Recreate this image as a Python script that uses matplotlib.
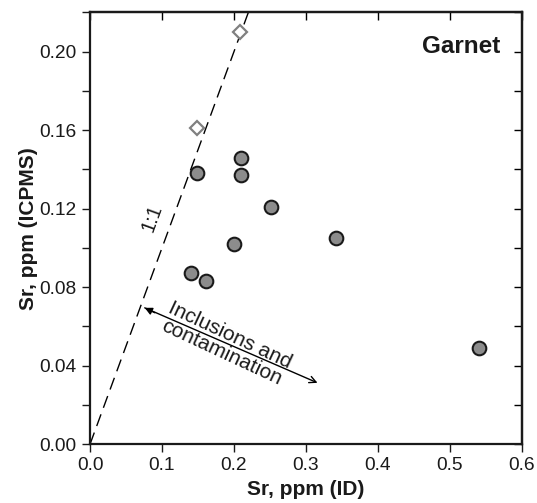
import numpy as np
import matplotlib.pyplot as plt
from matplotlib.ticker import MultipleLocator

plt.rcParams['font.family'] = ['Liberation Sans', 'DejaVu Sans']

# garnet samples: Sr by isotope dilution vs ICPMS
sr_id = [0.149, 0.210, 0.210, 0.251, 0.200, 0.342, 0.140, 0.161, 0.540]
sr_icpms = [0.138, 0.146, 0.137, 0.121, 0.102, 0.105, 0.087, 0.083, 0.049]

# open diamonds sitting on the 1:1 line
std_id = [0.209, 0.149]
std_icpms = [0.210, 0.161]

# trend arrow
arrow_start = (0.076, 0.0695)
arrow_end = (0.316, 0.0313)

fig = plt.figure(figsize=(5.37, 5.03), dpi=100)
ax = fig.add_axes([0.1676, 0.1167, 0.8044, 0.8588])

ax.plot([0, 0.3], [0, 0.3], color='black', lw=1.0, dashes=(9, 5), zorder=1)

ax.plot(sr_id, sr_icpms, 'o', ms=9.8, mfc='#8c8c8c', mec='#1a1a1a',
        mew=1.5, ls='none', zorder=3)
ax.plot(std_id, std_icpms, 'D', ms=7, mfc='white', mec='#808080',
        mew=1.6, ls='none', zorder=3)

ax.annotate('', xy=arrow_end, xytext=arrow_start,
            arrowprops=dict(arrowstyle='->', color='black', lw=1.0,
                            shrinkA=0, shrinkB=0, mutation_scale=12))
ax.annotate('', xy=arrow_start, xytext=(0.09, 0.067),
            arrowprops=dict(arrowstyle='-|>', color='black', lw=1.0,
                            shrinkA=0, shrinkB=0, mutation_scale=11))

ax.text(0.188, 0.051, 'Inclusions and\ncontamination', rotation=-25,
        rotation_mode='anchor', ha='center', va='center', fontsize=15,
        color='#1a1a1a', linespacing=1.05)
ax.text(0.0865, 0.115, '1:1', rotation=70, ha='center', va='center',
        fontsize=14.5, color='#1a1a1a')
ax.text(0.5155, 0.2025, 'Garnet', ha='center', va='center', fontsize=17.5,
        fontweight='bold', color='#1a1a1a')

ax.set_xlim(0, 0.6)
ax.set_ylim(0, 0.22)
ax.xaxis.set_major_locator(MultipleLocator(0.1))
ax.yaxis.set_major_locator(MultipleLocator(0.04))
ax.yaxis.set_minor_locator(MultipleLocator(0.02))
ax.xaxis.set_major_formatter(plt.FormatStrFormatter('%.1f'))
ax.yaxis.set_major_formatter(plt.FormatStrFormatter('%.2f'))

ax.tick_params(which='both', direction='out', length=6, width=1.0,
               labelsize=13.8, colors='#1a1a1a', top=False, right=False)
ax.tick_params(which='minor', length=6)

# inward ticks on the top and right sides
ax_top = ax.secondary_xaxis('top')
ax_top.xaxis.set_major_locator(MultipleLocator(0.1))
ax_top.tick_params(direction='in', length=6, width=1.0, labeltop=False)
ax_right = ax.secondary_yaxis('right')
ax_right.yaxis.set_major_locator(MultipleLocator(0.02))
ax_right.tick_params(direction='in', length=6, width=1.0, labelright=False)
ax_top.spines['top'].set_linewidth(1.6)
ax_right.spines['right'].set_linewidth(1.6)

for s in ax.spines.values():
    s.set_linewidth(1.6)
    s.set_color('#1a1a1a')

ax.set_xlabel('Sr, ppm (ID)', fontsize=15, fontweight='bold',
              color='#1a1a1a')
ax.set_ylabel('Sr, ppm (ICPMS)', fontsize=15, fontweight='bold',
              color='#1a1a1a')
ax.xaxis.set_label_coords(0.5, -0.083)
ax.yaxis.set_label_coords(-0.12, 0.5)

fig.savefig('out.png', dpi=100)
